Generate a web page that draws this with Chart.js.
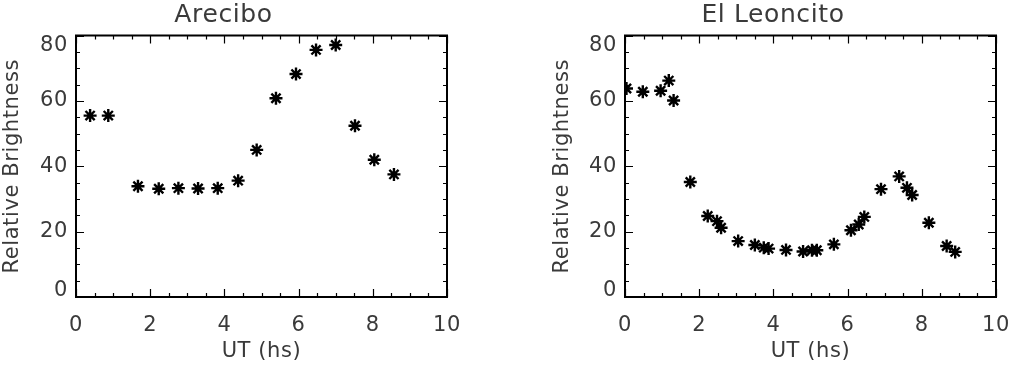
<!DOCTYPE html>
<html lang="en">
<head>
    <meta charset="UTF-8">
    <title>Relative Brightness vs UT</title>
    <script src="https://cdn.jsdelivr.net/npm/chart.js"></script>
    <style>
        html, body { margin: 0; padding: 0; background: #fff; overflow: hidden; }
        .wrap { position: absolute; top: 0; height: 367px; }
    </style>
</head>
<body>
    <div class="wrap" style="left:0; width:505px;"><canvas id="arecibo" width="505" height="367"></canvas></div>
    <div class="wrap" style="left:505px; width:506px;"><canvas id="leoncito" width="506" height="367"></canvas></div>

    <script>
        // Arecibo
        const areciboUT = [0.38, 0.87, 1.67, 2.23, 2.76, 3.29, 3.82, 4.37, 4.87, 5.39, 5.93, 6.47, 7.00, 7.52, 8.04, 8.57];
        const areciboBright = [55.5, 55.5, 33.9, 33.1, 33.3, 33.2, 33.3, 35.6, 45.0, 60.8, 68.2, 75.6, 77.1, 52.4, 42.0, 37.5];

        // El Leoncito
        const leoncitoUT = [0.04, 0.48, 0.96, 1.18, 1.31, 1.76, 2.23, 2.48, 2.59, 3.05, 3.50, 3.74, 3.87, 4.34,
            4.80, 5.04, 5.17, 5.63, 6.09, 6.30, 6.45, 6.90, 7.39, 7.60, 7.74, 8.19, 8.67, 8.90];
        const leoncitoBright = [63.8, 62.8, 63.1, 66.2, 60.1, 35.2, 24.8, 23.2, 21.2, 17.1, 15.9, 15.1, 14.8, 14.4,
            13.9, 14.3, 14.3, 16.1, 20.4, 22.2, 24.5, 33.0, 36.9, 33.4, 31.2, 22.7, 15.6, 13.8];

        // axis ticks
        const xTicks = [0, 2, 4, 6, 8, 10];
        const xMinorStep = 0.5;
        const yTicks = [0, 20, 40, 60, 80];
        const yMinorStep = 5;

        const FONT = 'DejaVu Sans';
        const TEXT = '#3a3a3a';
        const SPACING = '0.6px';

        // the IDL font is a bit more spread out than DejaVu
        const spacing = {
            id: 'spacing',
            beforeUpdate(chart) { chart.ctx.letterSpacing = SPACING; },
            beforeDraw(chart) { chart.ctx.letterSpacing = SPACING; }
        };

        // IDL style box: inward ticks on all four sides, clamped y labels
        const boxAxes = {
            id: 'boxAxes',
            afterDatasetsDraw(chart) {
                const ctx = chart.ctx;
                const a = chart.chartArea;
                const xs = chart.scales.x, ys = chart.scales.y;
                ctx.save();
                ctx.strokeStyle = '#000';
                ctx.lineWidth = 1.2;
                ctx.beginPath();
                // x ticks, bottom and top
                for (let v = xTicks[0]; v <= xTicks[xTicks.length - 1] + 1e-9; v += xMinorStep) {
                    const px = Math.round(xs.getPixelForValue(v)) + 0.5;
                    const len = xTicks.includes(Math.round(v * 100) / 100) ? 8 : 4;
                    ctx.moveTo(px, a.bottom); ctx.lineTo(px, a.bottom - len);
                    ctx.moveTo(px, a.top); ctx.lineTo(px, a.top + len);
                }
                // y ticks, left and right
                for (let v = yTicks[0]; v <= yTicks[yTicks.length - 1]; v += yMinorStep) {
                    const py = Math.round(ys.getPixelForValue(v)) + 0.5;
                    const len = yTicks.includes(v) ? 8 : 4;
                    ctx.moveTo(a.left, py); ctx.lineTo(a.left + len, py);
                    ctx.moveTo(a.right, py); ctx.lineTo(a.right - len, py);
                }
                ctx.stroke();
                ctx.lineWidth = 2;
                ctx.strokeRect(a.left, a.top, a.right - a.left, a.bottom - a.top);

                // y labels (end labels kept inside the box height)
                ctx.fillStyle = TEXT;
                ctx.font = '21px "' + FONT + '"';
                ctx.textAlign = 'right';
                ctx.textBaseline = 'middle';
                yTicks.forEach(v => {
                    let py = ys.getPixelForValue(v);
                    py = Math.min(Math.max(py, a.top + 10), a.bottom - 6);
                    ctx.fillText(String(v), a.left - 8, py);
                });
                ctx.restore();
            }
        };

        function makeChart(id, title, ut, bright, padLeft, padRight, yWidth) {
            const points = ut.map((x, i) => ({ x: x, y: bright[i] }));
            return new Chart(document.getElementById(id), {
                type: 'scatter',
                data: {
                    datasets: [{
                        data: points,
                        pointStyle: 'star',
                        pointRadius: 6.5,
                        borderWidth: 2.4,
                        borderColor: '#000',
                        backgroundColor: '#000',
                        clip: 0
                    }]
                },
                options: {
                    responsive: false,
                    animation: false,
                    devicePixelRatio: 1,
                    layout: { padding: { left: padLeft, right: padRight, top: 0, bottom: 0 } },
                    plugins: {
                        legend: { display: false },
                        tooltip: { enabled: false },
                        title: {
                            display: true,
                            text: title,
                            color: TEXT,
                            font: { family: FONT, size: 25, weight: 'normal' },
                            padding: { top: 0, bottom: 5.5 }
                        }
                    },
                    scales: {
                        x: {
                            type: 'linear',
                            min: 0,
                            max: 10,
                            grid: { display: false, drawTicks: false },
                            border: { display: false },
                            ticks: {
                                stepSize: 2,
                                autoSkip: false,
                                maxRotation: 0,
                                padding: 16,
                                color: TEXT,
                                font: { family: FONT, size: 21 }
                            },
                            title: {
                                display: true,
                                text: 'UT (hs)',
                                color: TEXT,
                                font: { family: FONT, size: 21 },
                                padding: { top: 0, bottom: 2.5 }
                            },
                            afterFit(s) { s.height = 70; s.paddingLeft = 0; s.paddingRight = 0; }
                        },
                        y: {
                            type: 'linear',
                            min: 0,
                            max: 80,
                            grid: { display: false, drawTicks: false },
                            border: { display: false },
                            ticks: { display: false, stepSize: 20 },
                            title: {
                                display: true,
                                text: 'Relative Brightness',
                                color: TEXT,
                                font: { family: FONT, size: 21 },
                                padding: { top: 0, bottom: 0 }
                            },
                            afterFit(s) { s.width = yWidth; s.paddingTop = 0; s.paddingBottom = 0; }
                        }
                    }
                },
                plugins: [spacing, boxAxes]
            });
        }

        makeChart('arecibo', 'Arecibo', areciboUT, areciboBright, 0, 58, 76);
        makeChart('leoncito', 'El Leoncito', leoncitoUT, leoncitoBright, 45, 15, 75);
    </script>
</body>
</html>
